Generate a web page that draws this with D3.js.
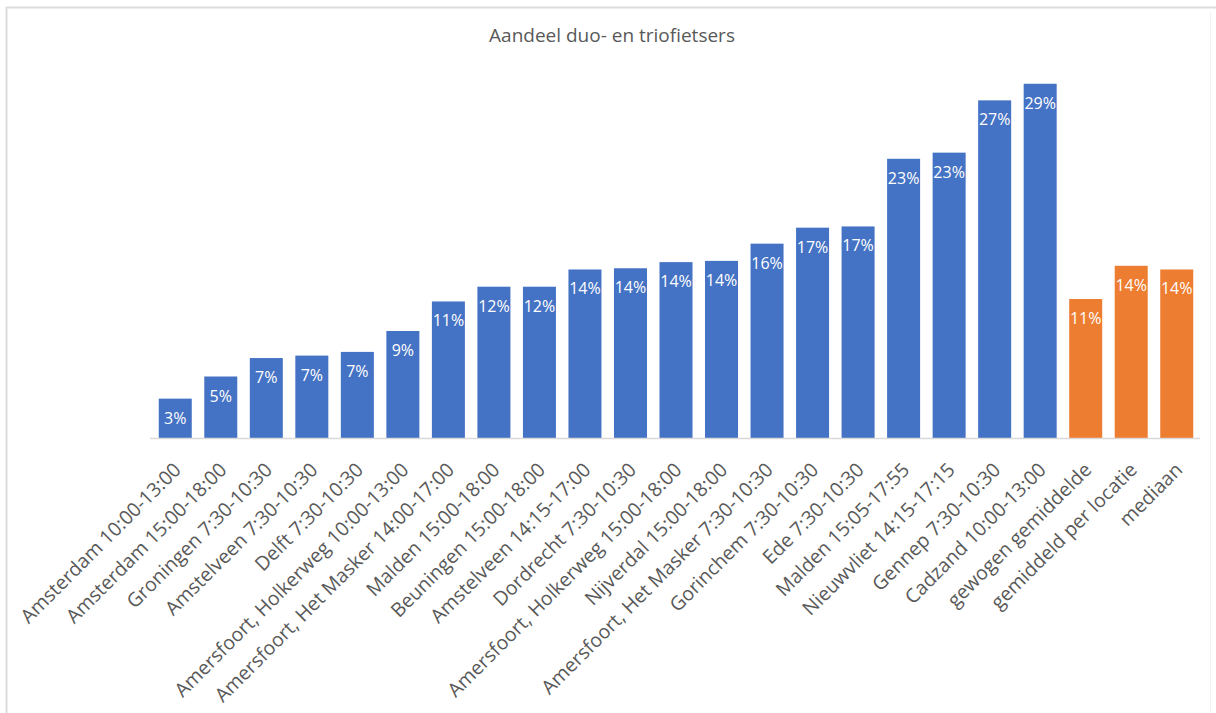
<!DOCTYPE html>
<html>
<head>
<meta charset="utf-8">
<script src="https://cdn.jsdelivr.net/npm/d3@7"></script>
<style>
  html, body { margin: 0; padding: 0; background: #fff; }
  svg { display: block; }
  text { font-family: "Open Sans", "Noto Sans", sans-serif; }
</style>
</head>
<body>
<svg id="chart" width="1216" height="713"></svg>
<script>
// Meetlocaties en tijdvakken
const categories = [
  "Amsterdam 10:00-13:00",
  "Amsterdam 15:00-18:00",
  "Groningen 7:30-10:30",
  "Amstelveen 7:30-10:30",
  "Delft 7:30-10:30",
  "Amersfoort, Holkerweg 10:00-13:00",
  "Amersfoort, Het Masker 14:00-17:00",
  "Malden 15:00-18:00",
  "Beuningen 15:00-18:00",
  "Amstelveen 14:15-17:00",
  "Dordrecht 7:30-10:30",
  "Amersfoort, Holkerweg 15:00-18:00",
  "Nijverdal 15:00-18:00",
  "Amersfoort, Het Masker 7:30-10:30",
  "Gorinchem 7:30-10:30",
  "Ede 7:30-10:30",
  "Malden 15:05-17:55",
  "Nieuwvliet 14:15-17:15",
  "Gennep 7:30-10:30",
  "Cadzand 10:00-13:00",
  "gewogen gemiddelde",
  "gemiddeld per locatie",
  "mediaan"
];

// Aandeel duo- en triofietsers per meting
const shares = [
  0.032, 0.050, 0.065, 0.067, 0.070, 0.087, 0.111, 0.123, 0.123, 0.137,
  0.138, 0.143, 0.144, 0.158, 0.171, 0.172, 0.227, 0.232, 0.2745, 0.288,
  0.113, 0.140, 0.137
];

// Samenvattende kolommen (gemiddelden en mediaan) krijgen een eigen kleur
const summaryCategories = ["gewogen gemiddelde", "gemiddeld per locatie", "mediaan"];

const title = "Aandeel duo- en triofietsers";

const data = categories.map((c, i) => ({ category: c, value: shares[i] }));

const svg = d3.select("#chart");
const W = 1216, H = 713;

// kader
svg.append("line").attr("x1", 6).attr("x2", W).attr("y1", 7.5).attr("y2", 7.5)
  .attr("stroke", "#dcdcdc").attr("stroke-width", 2);
svg.append("line").attr("x1", 6.5).attr("x2", 6.5).attr("y1", 7).attr("y2", H)
  .attr("stroke", "#dcdcdc").attr("stroke-width", 2);
svg.append("line").attr("x1", 1210.5).attr("x2", 1210.5).attr("y1", 12).attr("y2", H)
  .attr("stroke", "#f3f3f3").attr("stroke-width", 1);

const x = d3.scaleBand()
  .domain(categories)
  .range([152.5, 1199.5])
  .paddingInner(0.275)
  .paddingOuter(0.1375);

const y = d3.scaleLinear()
  .domain([0, 0.30])
  .range([438, 69]);

// titel
svg.append("text")
  .attr("x", 612)
  .attr("y", 42)
  .attr("text-anchor", "middle")
  .attr("fill", "#595959")
  .attr("font-size", 19)
  .text(title);

// balken
svg.append("g")
  .selectAll("rect")
  .data(data)
  .join("rect")
  .attr("x", d => x(d.category))
  .attr("width", x.bandwidth())
  .attr("y", d => y(d.value))
  .attr("height", d => y(0) - y(d.value))
  .attr("fill", d => summaryCategories.includes(d.category) ? "#ED7D31" : "#4472C4");

// waardelabels binnen de balk
const fmt = d3.format(".0%");
svg.append("g")
  .selectAll("text")
  .data(data)
  .join("text")
  .attr("x", d => x(d.category) + x.bandwidth() / 2)
  .attr("y", d => y(d.value) + 25)
  .attr("text-anchor", "middle")
  .attr("fill", "#ffffff")
  .attr("font-size", 16)
  .text(d => fmt(d.value));

// categorie-as
const xAxis = d3.axisBottom(x).tickSize(0).tickPadding(0);
const gx = svg.append("g")
  .attr("transform", "translate(0,438)")
  .call(xAxis);
gx.select(".domain")
  .attr("d", "M150,0.5H1200")
  .attr("stroke", "#d9d9d9")
  .attr("stroke-width", 1.5);
gx.selectAll(".tick text")
  .attr("font-family", "\"Open Sans\", \"Noto Sans\", sans-serif")
  .attr("font-size", 19.5)
  .attr("fill", "#595959")
  .attr("text-anchor", "end")
  .attr("dy", null)
  .attr("y", null)
  .attr("transform", "translate(7,33) rotate(-45)");
</script>
</body>
</html>
